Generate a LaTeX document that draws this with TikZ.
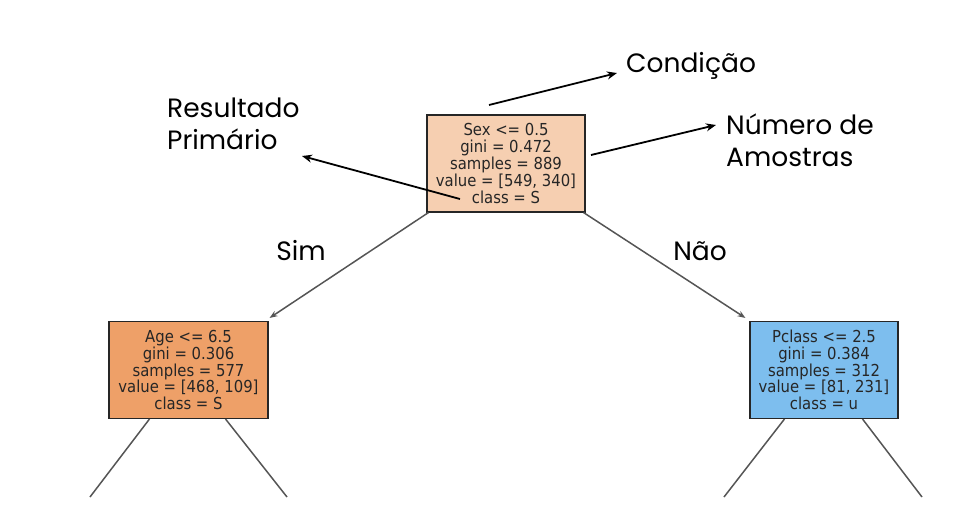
\documentclass[tikz,border=0pt]{standalone}
\usepackage{fontspec}
\setmainfont{Poppins}
\newfontfamily\treefont{DejaVu Sans Condensed}
\usetikzlibrary{arrows.meta}
\definecolor{rootfill}{HTML}{F6CFB1}
\definecolor{leftfill}{HTML}{EEA068}
\definecolor{rightfill}{HTML}{7DBEEE}
\definecolor{edgegray}{HTML}{555555}
\tikzset{
  treebox/.style={draw=black!85, line width=1.1pt, minimum width=158pt, minimum height=97pt, inner sep=0pt,
    align=center, font=\treefont\fontsize{16.5}{16.8}\selectfont, text=black!85},
  treeedge/.style={draw=edgegray, line width=1.5pt, -{Stealth[length=8pt,width=6pt]}},
  stubedge/.style={draw=edgegray, line width=1.5pt},
  annot/.style={font=\fontsize{26.5}{32}\selectfont, align=left, anchor=west, inner sep=0pt},
  annarrow/.style={draw=black, line width=1.8pt, -{Stealth[length=10pt,width=8pt]}},
  branch/.style={font=\fontsize{26.5}{30}\selectfont, inner sep=0pt}
}
\begin{document}
\begin{tikzpicture}[x=1pt,y=-1pt]
\useasboundingbox (0,0) rectangle (975,512);
\node[treebox, fill=rootfill, minimum width=158pt] (root) at (506,163.5) {Sex <= 0.5\\gini = 0.472\\samples = 889\\value = [549, 340]\\class = S};
\node[treebox, fill=leftfill, minimum width=159pt] (left) at (188.5,370) {Age <= 6.5\\gini = 0.306\\samples = 577\\value = [468, 109]\\class = S};
\node[treebox, fill=rightfill, minimum width=148pt] (right) at (824,370) {Pclass <= 2.5\\gini = 0.384\\samples = 312\\value = [81, 231]\\class = u};
% edges
\draw[treeedge] ([xshift=2pt]root.south west) -- ([xshift=1pt,yshift=3pt]left.north east);
\draw[treeedge] ([xshift=-2pt]root.south east) -- ([xshift=-4pt,yshift=3pt]right.north west);
\coordinate (l1) at (90,497);
\coordinate (l2) at (287,497);
\coordinate (r1) at (724,497);
\coordinate (r2) at (922,497);
\draw[stubedge] ([xshift=41pt]left.south west) -- (l1);
\draw[stubedge] ([xshift=-43pt]left.south east) -- (l2);
\draw[stubedge] ([xshift=35pt]right.south west) -- (r1);
\draw[stubedge] ([xshift=-36pt]right.south east) -- (r2);
% branch labels
\node[branch] (sim) at (301,251) {Sim};
\node[branch] (nao) at (700,251) {Não};
% annotations
\node[annot] (cond) at (626,66) {Condição};
\node[annot] (res) at (167,124) {Resultado\\Primário};
\node[annot] (num) at (726,140) {Número de\\Amostras};
\coordinate (c0) at (489,105);
\coordinate (n0) at (591,155);
\coordinate (r0) at (460,199);
\draw[annarrow] (c0) -- (617,73);
\draw[annarrow] (n0) -- (716,125);
\draw[annarrow] (r0) -- (302,156);
\end{tikzpicture}
\end{document}
